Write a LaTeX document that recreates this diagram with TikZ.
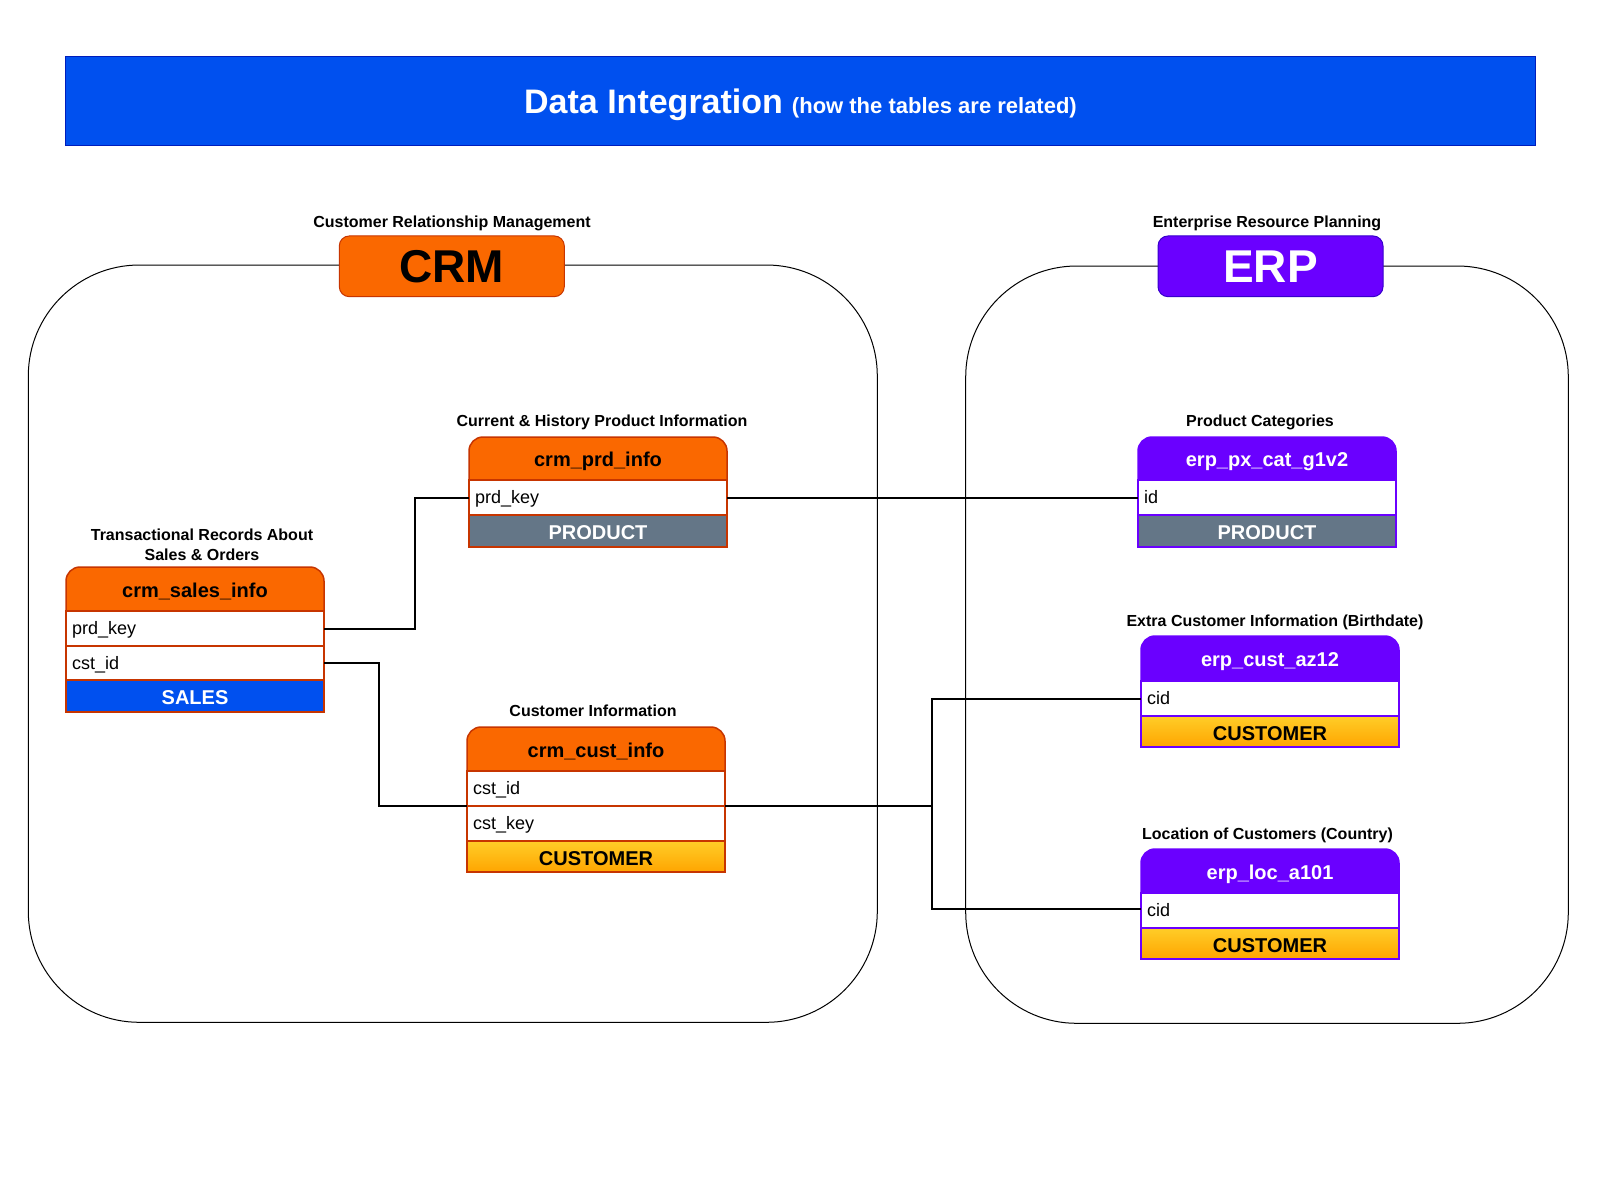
\documentclass[tikz,border=0pt]{standalone}
\usepackage{fontspec}
\setmainfont{Liberation Sans}
\definecolor{crmfill}{HTML}{FA6800}
\definecolor{crmline}{HTML}{C73500}
\definecolor{erpfill}{HTML}{6A00FF}
\definecolor{erpline}{HTML}{3700CC}
\definecolor{bannerfill}{HTML}{0050EF}
\definecolor{bannerline}{HTML}{001DBC}
\definecolor{prodfill}{HTML}{647687}
\definecolor{custtop}{HTML}{FFCD28}
\definecolor{custbot}{HTML}{FFA500}
\tikzset{
  every node/.style={inner sep=0pt, outer sep=0pt},
  lbl/.style={font=\fontsize{16}{19}\selectfont\bfseries, text height=13pt, text depth=0pt},
  hdrtext/.style={font=\fontsize{20}{24}\selectfont\bfseries, text height=16pt, text depth=0pt},
  rowcell/.style={draw, fill=white, line width=1.5pt, minimum width=258pt, minimum height=35pt,
    text width=246pt, align=left, font=\fontsize{18}{22}\selectfont, text height=12.6pt, text depth=0pt},
  footcell/.style={draw, line width=1.5pt, minimum width=258pt, minimum height=32pt,
    font=\fontsize{20}{24}\selectfont\bfseries, text height=17pt, text depth=0pt},
  custfoot/.style={footcell, top color=custtop, bottom color=custbot, text=black},
  prodfoot/.style={footcell, fill=prodfill, text=white},
  container/.style={draw=black, line width=1pt, rounded corners=111pt},
  badge/.style={line width=1pt, rounded corners=10pt, minimum width=225pt, minimum height=60.7pt,
    font=\fontsize{46}{50}\selectfont\bfseries, text height=33pt, text depth=0pt},
  conn/.style={draw=black, line width=2pt},
}
% #1 name, #2 x-left, #3 y-top, #4 height, #5 fill, #6 line, #7 text colour, #8 title
\newcommand\tblhead[8]{%
  \filldraw[fill=#5, draw=#6, line width=1.5pt] (#2,#3+#4) [rounded corners=14pt] -- (#2,#3) -- (#2+258,#3) [sharp corners] -- (#2+258,#3+#4) -- cycle;
  \node[hdrtext, text=#7] (#1) at (#2+129,#3+#4/2) {#8};
}
\begin{document}
\begin{tikzpicture}[x=1pt,y=-1pt]
\useasboundingbox (0,0) rectangle (1600,1200);
\fill[white] (0,0) rectangle (1600,1200);

% banner
\node[draw=bannerline, fill=bannerfill, line width=1pt, minimum width=1470.4pt, minimum height=89pt,
  text=white, font=\bfseries, text height=26pt, text depth=0pt] (banner) at (800.5,100.5)
  {{\fontsize{34}{40}\selectfont Data Integration}\hspace{9pt}{\fontsize{22}{26}\selectfont (how the tables are related)}};

% containers
\node[container, minimum width=849pt, minimum height=757.3pt] (crmbox) at (452.8,643.65) {};
\node[container, minimum width=602.6pt, minimum height=757.3pt] (erpbox) at (1267,644.65) {};

% badges
\node[badge, draw=crmline, fill=crmfill, text=black] (crmbadge) at (451.8,266.3) {CRM};
\node[badge, draw=erpline, fill=erpfill, text=white] (erpbadge) at (1270.5,266.3) {ERP};
\node[lbl] (crmlbl) at (452,221) {Customer Relationship Management};
\node[lbl] (erplbl) at (1267,221) {Enterprise Resource Planning};

% labels of tables
\node[font=\fontsize{16}{20.4}\selectfont\bfseries, align=center] (saleslbl) at (202,545) {Transactional Records About\\Sales \& Orders};
\node[lbl] (prdlbl) at (602,420) {Current \& History Product Information};
\node[lbl] (custlbl) at (593,710) {Customer Information};
\node[lbl] (pxlbl) at (1260,420) {Product Categories};
\node[lbl] (az12lbl) at (1275,620) {Extra Customer Information (Birthdate)};
\node[lbl] (loclbl) at (1267.5,833) {Location of Customers (Country)};

% crm_sales_info
\tblhead{saleshead}{66}{567}{44}{crmfill}{crmline}{black}{crm\_sales\_info}
\node[rowcell, draw=crmline] (salesprd) at (195,628.5) {prd\_key};
\node[rowcell, draw=crmline, minimum height=34pt] (salescst) at (195,663) {cst\_id};
\node[footcell, draw=crmline, fill=bannerfill, text=white] (salesfoot) at (195,696) {SALES};

% crm_prd_info
\tblhead{prdhead}{469}{437}{43}{crmfill}{crmline}{black}{crm\_prd\_info}
\node[rowcell, draw=crmline] (prdkey) at (598,497.5) {prd\_key};
\node[prodfoot, draw=crmline] (prdfoot) at (598,531) {PRODUCT};

% crm_cust_info
\tblhead{custhead}{467}{727}{44}{crmfill}{crmline}{black}{crm\_cust\_info}
\node[rowcell, draw=crmline] (custid) at (596,788.5) {cst\_id};
\node[rowcell, draw=crmline] (custkey) at (596,823.5) {cst\_key};
\node[custfoot, draw=crmline, minimum height=31pt] (custfoot) at (596,856.5) {CUSTOMER};

% erp_px_cat_g1v2
\tblhead{pxhead}{1138}{437}{43}{erpfill}{erpfill}{white}{erp\_px\_cat\_g1v2}
\node[rowcell, draw=erpfill] (pxid) at (1267,497.5) {id};
\node[prodfoot, draw=erpfill] (pxfoot) at (1267,531) {PRODUCT};

% erp_cust_az12
\tblhead{az12head}{1141}{636}{45}{erpfill}{erpfill}{white}{erp\_cust\_az12}
\node[rowcell, draw=erpfill] (az12cid) at (1270,698.5) {cid};
\node[custfoot, draw=erpfill, minimum height=31pt] (az12foot) at (1270,731.5) {CUSTOMER};

% erp_loc_a101
\tblhead{lochead}{1141}{849}{44}{erpfill}{erpfill}{white}{erp\_loc\_a101}
\node[rowcell, draw=erpfill] (loccid) at (1270,910.5) {cid};
\node[custfoot, draw=erpfill, minimum height=31pt] (locfoot) at (1270,943.5) {CUSTOMER};

% connectors
\draw[conn] (salesprd.east) -- ++(91,0) |- (prdkey.west);
\draw[conn] (salescst.east) -- ++(54.6,0) |- (custid.south west);
\draw[conn] (prdkey.east) -- (pxid.west);
\path (custid.south east) ++(207.3,0) coordinate (junc);
\draw[conn] (custid.south east) -- (junc);
\draw[conn] (junc) |- (az12cid.west);
\draw[conn] (junc) |- ([yshift=2pt]loccid.west);
\end{tikzpicture}
\end{document}
